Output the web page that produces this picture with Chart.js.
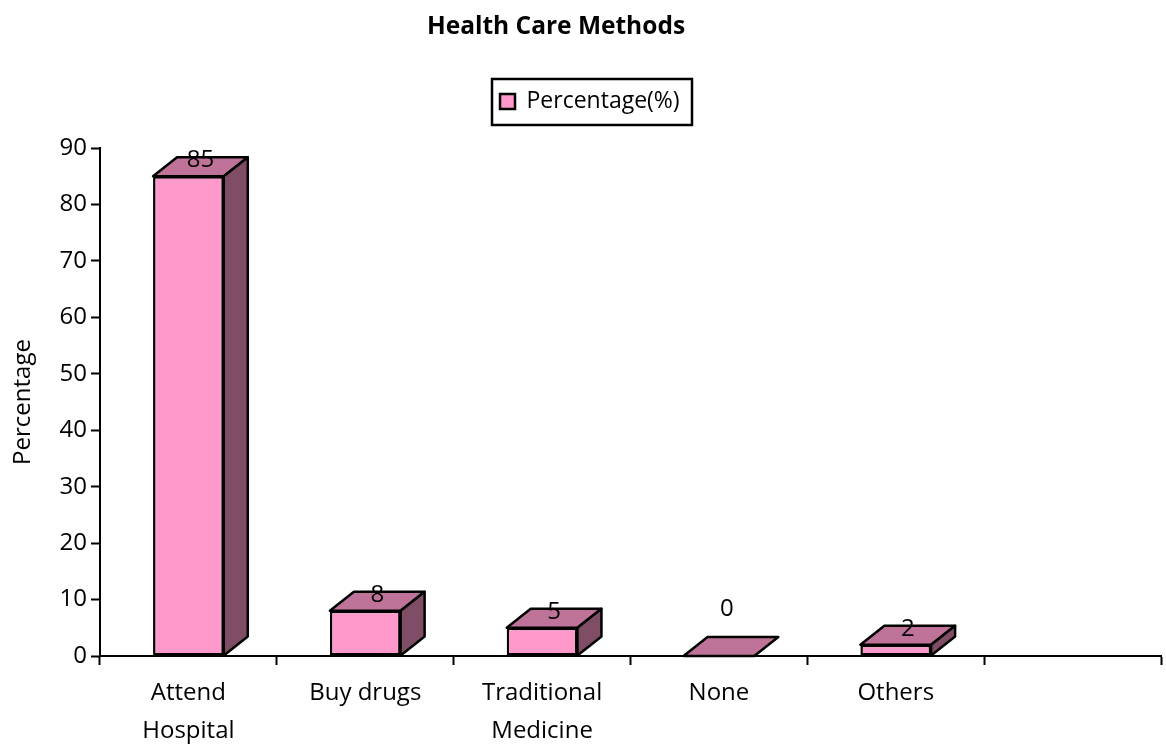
<!DOCTYPE html>
<html>
<head>
<meta charset="utf-8">
<title>Health Care Methods</title>
<script src="https://cdn.jsdelivr.net/npm/chart.js@4"></script>
<style>
  body { margin: 0; background: #fff; }
  #wrap { width: 1166px; height: 744px; }
</style>
</head>
<body>
<div id="wrap"><canvas id="healthChart"></canvas></div>
<script>
const categories = [['Attend', 'Hospital'], 'Buy drugs', ['Traditional', 'Medicine'], 'None', 'Others', ''];
const percentages = [85, 8, 5, 0, 2, null];
const seriesName = 'Percentage(%)';
const chartTitle = 'Health Care Methods';
const yAxisTitle = 'Percentage';

const fontFamily = '"Open Sans", sans-serif';
const fontSize = 24;
const frontColor = '#FF99CC';
const topColor = '#BF7399';
const sideColor = '#804D66';
const depthX = 24;
const depthY = 19;
const outline = 2.5;

// Excel style 3D boxes: top and side faces hang off the real bar elements
const bar3d = {
    id: 'bar3d',
    afterLayout(chart) {
        // title and legend don't sit at the canvas center in the original
        const t = chart.titleBlock;
        t.left = 0; t.right = 1112;
        const l = chart.legend;
        const h = l.bottom - l.top;
        l.left = 491; l.right = 692;
        l.top = 81; l.bottom = 81 + h;
    },
    beforeDraw(chart) {
        const ctx = chart.ctx;
        ctx.save();
        ctx.strokeStyle = '#000';
        ctx.lineWidth = 2.5;
        ctx.strokeRect(492, 79, 200, 46);
        ctx.restore();
    },
    afterDatasetsDraw(chart) {
        const ctx = chart.ctx;
        const meta = chart.getDatasetMeta(0);
        ctx.save();
        ctx.strokeStyle = '#000';
        ctx.lineWidth = outline;
        ctx.lineJoin = 'round';
        meta.data.forEach(function (bar, i) {
            if (percentages[i] === null) return;
            const left = bar.x - bar.width / 2;
            const right = bar.x + bar.width / 2;
            const top = bar.y;
            const base = bar.base;

            ctx.fillStyle = topColor;
            ctx.beginPath();
            ctx.moveTo(left, top);
            ctx.lineTo(left + depthX, top - depthY);
            ctx.lineTo(right + depthX, top - depthY);
            ctx.lineTo(right, top);
            ctx.closePath();
            ctx.fill();
            ctx.stroke();

            if (base - top > 0) {
                ctx.fillStyle = sideColor;
                ctx.beginPath();
                ctx.moveTo(right, top);
                ctx.lineTo(right + depthX, top - depthY);
                ctx.lineTo(right + depthX, base - depthY);
                ctx.lineTo(right, base);
                ctx.closePath();
                ctx.fill();
                ctx.stroke();
            }
        });

        // value labels
        ctx.fillStyle = '#000';
        ctx.font = fontSize + 'px ' + fontFamily;
        ctx.textAlign = 'center';
        ctx.textBaseline = 'middle';
        meta.data.forEach(function (bar, i) {
            if (percentages[i] === null) return;
            const zero = percentages[i] === 0;
            ctx.fillText(String(percentages[i]), bar.x + (zero ? 8 : 12), bar.y - (zero ? 47 : 16));
        });
        ctx.restore();
    }
};

new Chart(document.getElementById('healthChart'), {
    type: 'bar',
    data: {
        labels: categories,
        datasets: [{
            label: seriesName,
            data: percentages,
            backgroundColor: frontColor,
            borderColor: '#000',
            borderWidth: outline,
            borderSkipped: false,
            barPercentage: 0.4,
            categoryPercentage: 1
        }]
    },
    options: {
        responsive: true,
        maintainAspectRatio: false,
        animation: false,
        layout: { padding: { right: 5 } },
        plugins: {
            title: {
                display: true,
                text: chartTitle,
                color: '#000',
                font: { family: fontFamily, size: 24.5, weight: 'bold' },
                padding: { top: 12, bottom: 64.6 }
            },
            legend: {
                position: 'top',
                align: 'start',
                labels: {
                    color: '#000',
                    font: { family: fontFamily, size: 23 },
                    boxWidth: 15,
                    boxHeight: 15,
                    padding: 9
                }
            },
            tooltip: { enabled: false }
        },
        scales: {
            x: {
                afterFit(scale) { scale.height = 88; },
                grid: { drawOnChartArea: false, color: '#000', tickLength: 9, tickWidth: 2 },
                border: { color: '#000', width: 2 },
                ticks: {
                    color: '#000',
                    font: { family: fontFamily, size: fontSize, lineHeight: 1.58 },
                    padding: 9,
                    maxRotation: 0,
                    autoSkip: false
                }
            },
            y: {
                min: 0,
                max: 90,
                afterFit(scale) { scale.width = 100; },
                title: {
                    display: true,
                    text: yAxisTitle,
                    color: '#000',
                    font: { family: fontFamily, size: fontSize },
                    padding: { top: 9, bottom: 0 }
                },
                grid: { drawOnChartArea: false, color: '#000', tickLength: 9, tickWidth: 2 },
                border: { color: '#000', width: 2 },
                ticks: { color: '#000', font: { family: fontFamily, size: fontSize }, padding: 4, stepSize: 10 }
            }
        }
    },
    plugins: [bar3d]
});
</script>
</body>
</html>
